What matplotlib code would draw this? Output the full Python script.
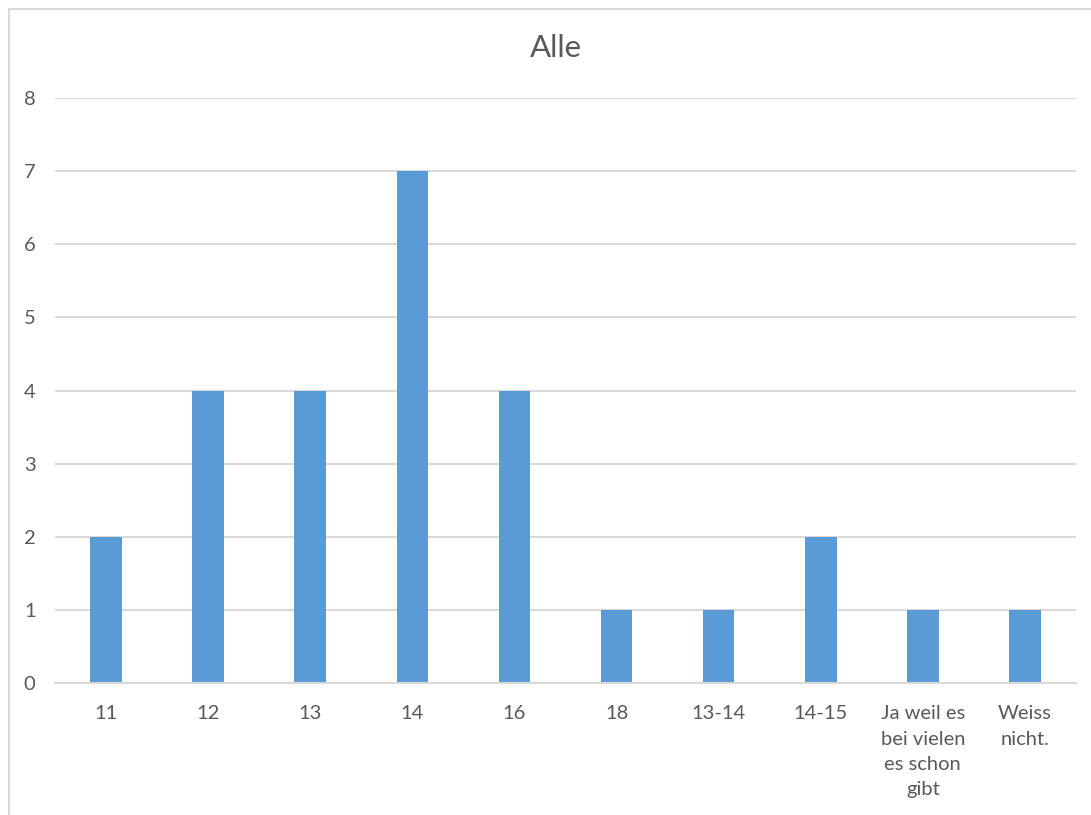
import matplotlib
matplotlib.use("Agg")
import matplotlib.pyplot as plt
from matplotlib.patches import Rectangle

categories = ["11", "12", "13", "14", "16", "18", "13-14", "14-15",
              "Ja weil es\nbei vielen\nes schon\ngibt", "Weiss\nnicht."]
counts = [2, 4, 4, 7, 4, 1, 1, 2, 1, 1]
y_ticks = [0, 1, 2, 3, 4, 5, 6, 7, 8]

BAR_COLOR = "#5B9BD5"
TEXT_COLOR = "#595959"
GRID_COLOR = "#D9D9D9"

plt.rcParams["font.family"] = ["Lato", "DejaVu Sans"]

W, H = 1091, 815
fig = plt.figure(figsize=(W / 100, H / 100), dpi=100)
fig.patch.set_facecolor("white")

# chart frame (top and left edges visible)
fig.patches.append(Rectangle((8.5 / W, -0.05), 1.2, 1 - 8.5 / H + 0.05,
                             transform=fig.transFigure, fill=False,
                             edgecolor=GRID_COLOR, linewidth=1.5, zorder=0))

ax = fig.add_axes([55 / W, 132 / H, (1076 - 55) / W, (683 - 98) / H])
x = range(len(categories))
ax.bar(x, counts, width=0.31, color=BAR_COLOR, zorder=3)

ax.set_xlim(-0.5, len(categories) - 0.5)
ax.set_ylim(0, 8)
ax.set_yticks(y_ticks)
ax.set_xticks(list(x))
ax.set_xticklabels(categories, linespacing=1.6, va="top")

ax.yaxis.grid(True, color=GRID_COLOR, linewidth=1.5, zorder=0)
for side in ["top", "right", "left"]:
    ax.spines[side].set_visible(False)
ax.spines["bottom"].set_color(GRID_COLOR)
ax.spines["bottom"].set_linewidth(1.5)
ax.spines["bottom"].set_zorder(4)

ax.tick_params(axis="both", length=0, colors=TEXT_COLOR, labelsize=14.5)
ax.tick_params(axis="y", pad=14)
ax.tick_params(axis="x", pad=16)

fig.text(556 / W, 1 - 48 / H, "Alle", ha="center", va="center",
         fontsize=22.5, color=TEXT_COLOR)

fig.savefig("out.png", dpi=100, facecolor="white")
